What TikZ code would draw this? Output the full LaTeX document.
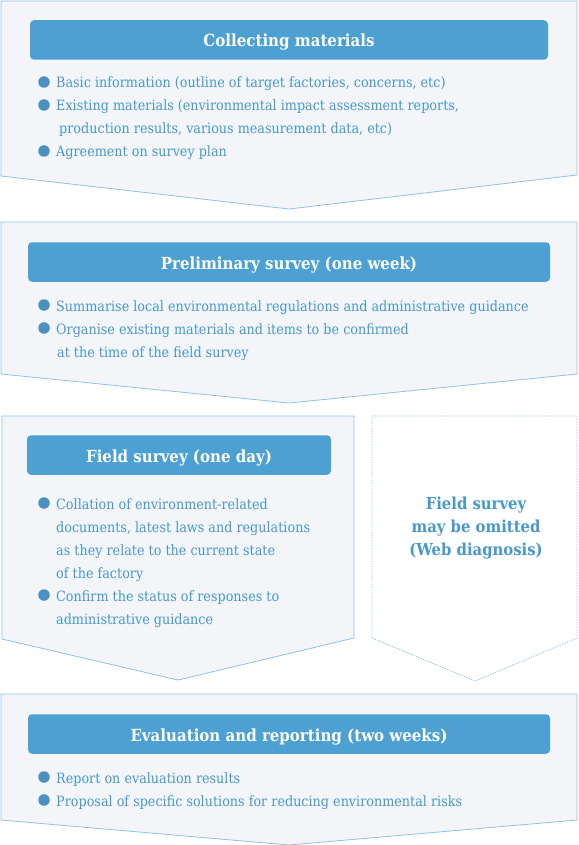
\documentclass[tikz,border=0pt]{standalone}
\usepackage{fontspec}
\setmainfont{DejaVu Serif Condensed}[BoldFont={DejaVu Serif Condensed Bold}]
\definecolor{boxfill}{HTML}{F3F5F9}
\definecolor{boxline}{HTML}{8EC3E6}
\definecolor{titleblue}{HTML}{4DA0D2}
\definecolor{textblue}{HTML}{4699CE}
\definecolor{dotblue}{HTML}{4A90C0}
\newcommand{\itemfnt}{\fontsize{14.2}{17}\selectfont}
\newcommand{\titlefnt}{\fontsize{16.7}{20}\selectfont\bfseries}
\newcommand{\skipfnt}{\fontsize{16.5}{20}\selectfont\bfseries}
\begin{document}
\begin{tikzpicture}[x=1pt,y=-1pt,
  box/.style={draw=boxline, fill=boxfill, line width=0.8pt},
  skipbox/.style={draw=boxline, line width=0.9pt, dash pattern=on 1.2pt off 1.4pt},
  titlebar/.style={fill=titleblue, rounded corners=4pt, text=white, font=\titlefnt, inner sep=0pt, minimum height=39.5pt, text height=15.5pt, text depth=1.5pt},
  item/.style={anchor=base west, text=textblue, font=\itemfnt, inner sep=0pt},
  dot/.style={circle, fill=dotblue, minimum size=11.5pt, inner sep=0pt},
  skiptext/.style={anchor=base, text=textblue, font=\skipfnt, inner sep=0pt}]
\useasboundingbox (0,0) rectangle (578,845);
% ---------- box 1
\draw[box] (1,1) -- (577,1) -- (577,175) -- (289,209) -- (1,176) -- cycle;
\node[titlebar, minimum width=518pt] (t1) at (289,40) {Collecting materials};
\node[dot] (d11) at (44,82) {};
\node[item] (i11) at (56,88) {Basic information (outline of target factories, concerns, etc)};
\node[dot] (d12) at (44,105) {};
\node[item] (i12) at (56,111) {Existing materials (environmental impact assessment reports,};
\node[item] (i12b) at (59,134) {production results, various measurement data, etc)};
\node[dot] (d13) at (44,151) {};
\node[item] (i13) at (56,157) {Agreement on survey plan};
% ---------- box 2
\draw[box] (1,222) -- (577,222) -- (577,374) -- (289,403) -- (1,374) -- cycle;
\node[titlebar, minimum width=522pt] (t2) at (289,262) {Preliminary survey (one week)};
\node[dot] (d21) at (44,305) {};
\node[item] (i21) at (56,311) {Summarise local environmental regulations and administrative guidance};
\node[dot] (d22) at (44,328) {};
\node[item] (i22) at (56,334) {Organise existing materials and items to be confirmed};
\node[item] (i22b) at (57,357) {at the time of the field survey};
% ---------- box 3
\draw[box] (2,416) -- (354,416) -- (354,638) -- (178,680) -- (2,639) -- cycle;
\node[titlebar, minimum width=304pt] (t3) at (179,455) {Field survey (one day)};
\node[dot] (d31) at (44,503) {};
\node[item] (i31) at (56,509) {Collation of environment-related};
\node[item] (i31b) at (56,532) {documents, latest laws and regulations};
\node[item] (i31c) at (56,555) {as they relate to the current state};
\node[item] (i31d) at (56,578) {of the factory};
\node[dot] (d32) at (44,595) {};
\node[item] (i32) at (56,601) {Confirm the status of responses to};
\node[item] (i32b) at (56,624) {administrative guidance};
% ---------- skipped box
\draw[skipbox] (372,416) -- (577,416) -- (577,638) -- (475,681) -- (372,638) -- cycle;
\node[skiptext] (s1) at (476,509) {Field survey};
\node[skiptext] (s2) at (476,532) {may be omitted};
\node[skiptext] (s3) at (476,555) {(Web diagnosis)};
% ---------- box 4
\draw[box] (1,694) -- (577,694) -- (577,820) -- (289,845) -- (1,820) -- cycle;
\node[titlebar, minimum width=522pt] (t4) at (289,734) {Evaluation and reporting (two weeks)};
\node[dot] (d41) at (44,777) {};
\node[item] (i41) at (56,783) {Report on evaluation results};
\node[dot] (d42) at (44,800) {};
\node[item] (i42) at (56,806) {Proposal of specific solutions for reducing environmental risks};
\end{tikzpicture}
\end{document}
